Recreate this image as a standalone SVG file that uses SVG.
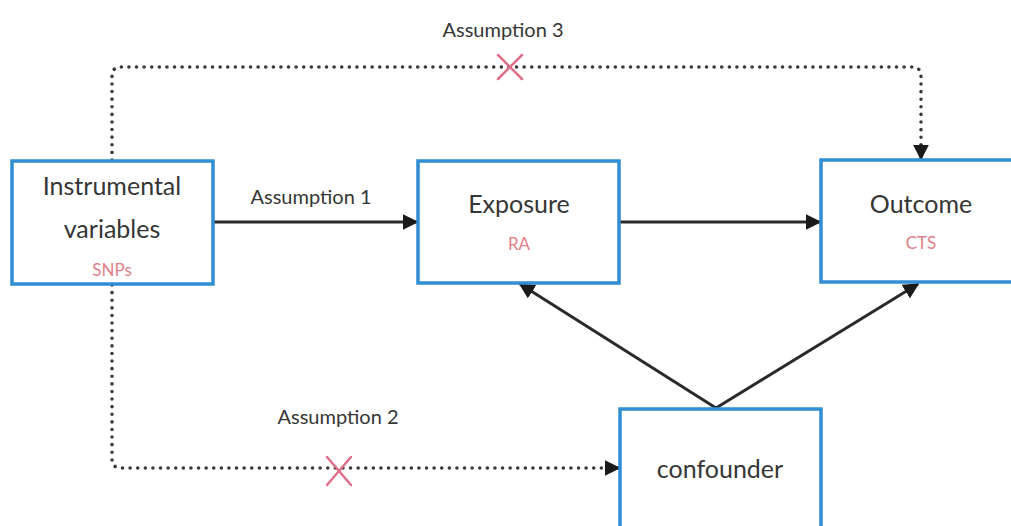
<svg xmlns="http://www.w3.org/2000/svg" width="1011" height="526" viewBox="0 0 1011 526">
  <style>
    .box { fill: #ffffff; stroke: #2f8fd2; stroke-width: 3.5; }
    .title { font-family: Lato, "Open Sans", "Liberation Sans", sans-serif; font-size: 25px; fill: #363636; text-anchor: middle; }
    .sub { font-family: Lato, "Open Sans", "Liberation Sans", sans-serif; font-size: 17px; fill: #e08088; text-anchor: middle; }
    .label { font-family: Lato, "Open Sans", "Liberation Sans", sans-serif; font-size: 20px; fill: #363636; text-anchor: middle; }
    .solid { fill: none; stroke: #2a2a2a; stroke-width: 3; }
    .dotted { fill: none; stroke: #3a3a3a; stroke-width: 3.5; stroke-dasharray: 0.1 7.5; stroke-linecap: round; }
    .cross { stroke: #e0708a; stroke-width: 2.5; stroke-linecap: round; }
  </style>
  <defs>
    <marker id="arrow" viewBox="0 0 10 10" refX="9" refY="5" markerWidth="16" markerHeight="16" markerUnits="userSpaceOnUse" orient="auto">
      <path d="M0,0 L10,5 L0,10 Z" fill="#1a1a1a"/>
    </marker>
  </defs>

  <rect width="1011" height="526" fill="#ffffff"/>

  <!-- connectors -->
  <g id="connectors">
    <line class="solid" x1="213" y1="222" x2="417" y2="222" marker-end="url(#arrow)"/>
    <line class="solid" x1="619" y1="222" x2="820" y2="222" marker-end="url(#arrow)"/>
    <line class="solid" x1="716" y1="408" x2="520" y2="284" marker-end="url(#arrow)"/>
    <line class="solid" x1="716" y1="408" x2="918" y2="284" marker-end="url(#arrow)"/>
    <path class="dotted" d="M112,160 V76 Q112,67 121,67 H912 Q921,67 921,76 V146"/>
    <path class="solid" d="M921,144 V159" stroke-width="0" marker-end="url(#arrow)"/>
    <path class="dotted" d="M112,285 V459 Q112,468 121,468 H604"/>
    <path class="solid" d="M606,468 H619" stroke-width="0" marker-end="url(#arrow)"/>
    <!-- crossed-out paths -->
    <g class="cross">
      <line x1="498" y1="55" x2="522" y2="79"/>
      <line x1="522" y1="55" x2="498" y2="79"/>
      <line x1="327" y1="457" x2="351" y2="485"/>
      <line x1="351" y1="457" x2="327" y2="485"/>
    </g>
    <text class="label" x="503" y="37">Assumption 3</text>
    <text class="label" x="311" y="204">Assumption 1</text>
    <text class="label" x="338" y="424">Assumption 2</text>
  </g>

  <!-- nodes -->
  <g id="instrumental">
    <rect class="box" x="12" y="161" width="201" height="123"/>
    <text class="title" x="112" y="195">Instrumental</text>
    <text class="title" x="112" y="238">variables</text>
    <text class="sub" x="112" y="276">SNPs</text>
  </g>
  <g id="exposure">
    <rect class="box" x="418" y="161" width="201" height="122"/>
    <text class="title" x="519" y="213">Exposure</text>
    <text class="sub" x="519" y="250">RA</text>
  </g>
  <g id="outcome">
    <rect class="box" x="821" y="160" width="201" height="122"/>
    <text class="title" x="921" y="213">Outcome</text>
    <text class="sub" x="921" y="249">CTS</text>
  </g>
  <g id="confounder">
    <rect class="box" x="620" y="409" width="201" height="130"/>
    <text class="title" x="720" y="478">confounder</text>
  </g>
</svg>
